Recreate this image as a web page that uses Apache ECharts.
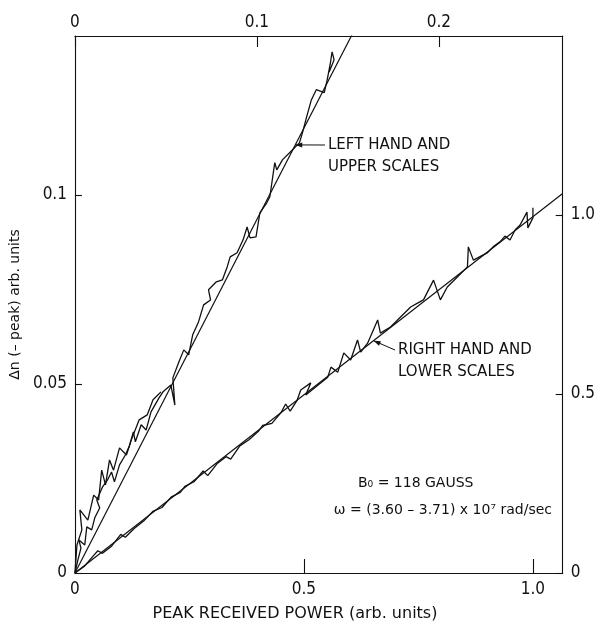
<!DOCTYPE html>
<html><head><meta charset="utf-8">
<script src="https://cdn.jsdelivr.net/npm/echarts@6/dist/echarts.min.js"></script>
<style>html,body{margin:0;padding:0;background:#fff}#c{width:598px;height:630px}</style>
</head><body><div id="c"></div>
<script>
// Tick values on the four scales
const lowerTicks = [0, 0.5, 1.0];
const upperTicks = [0, 0.1, 0.2];
const leftTicks = [0, 0.05, 0.1];
const rightTicks = [0, 0.5, 1.0];

// Recording read on the upper (power) and left-hand (Δn) scales
const upperPower = [0, 0.0016, 0.0033, 0.0022, 0.0054, 0.0065, 0.0092, 0.0109, 0.0136, 0.0120, 0.0152, 0.0179, 0.0201, 0.0217, 0.0245, 0.0277, 0.0299, 0.0321, 0.0332, 0.0364, 0.0391, 0.0418, 0.0462, 0.0484, 0.0527, 0.0549, 0.0538, 0.0571, 0.0598, 0.0625, 0.0647, 0.0679, 0.0707, 0.0745, 0.0734, 0.0777, 0.0810, 0.0837, 0.0853, 0.0891, 0.0924, 0.0946, 0.0962, 0.0995, 0.1016, 0.1054, 0.1071, 0.1098, 0.1109, 0.1141, 0.1196, 0.1234, 0.1250, 0.1272, 0.1299, 0.1326, 0.1370, 0.1386, 0.1402, 0.1413, 0.1424, 0.1397];
const upperDn = [0, 0.0034, 0.0066, 0.0087, 0.0074, 0.0122, 0.0114, 0.0146, 0.0172, 0.0193, 0.0228, 0.0246, 0.0267, 0.0241, 0.0286, 0.0312, 0.0336, 0.0373, 0.0347, 0.0392, 0.0378, 0.0426, 0.0463, 0.0479, 0.0497, 0.0444, 0.0516, 0.0558, 0.0590, 0.0577, 0.0630, 0.0664, 0.0709, 0.0722, 0.0749, 0.0770, 0.0775, 0.0810, 0.0836, 0.0847, 0.0881, 0.0915, 0.0886, 0.0889, 0.0952, 0.0979, 0.0995, 0.1085, 0.1066, 0.1093, 0.1119, 0.1138, 0.1164, 0.1204, 0.1251, 0.1278, 0.1270, 0.1304, 0.1344, 0.1378, 0.1357, 0.1325];
// Second pass of the same recording near the origin
const upperPower2 = [0, 0.0011, 0.0038, 0.0027, 0.0071, 0.0103, 0.0130, 0.0147, 0.0168, 0.0190, 0.0212, 0.0245, 0.0283, 0.0310, 0.0353, 0.0397, 0.0429, 0.0473];
const upperDn2 = [0, 0.0074, 0.0114, 0.0167, 0.0140, 0.0206, 0.0193, 0.0272, 0.0233, 0.0299, 0.0272, 0.0331, 0.0312, 0.0352, 0.0405, 0.0418, 0.0458, 0.0479];
// Straight-line fit, upper/left scales
const upperFitPower = [0, 0.16];
const upperFitDn = [0, 0.1496];

// Recording read on the lower (power) and right-hand (Δn) scales
const lowerPower = [0, 0.02, 0.04, 0.05, 0.06, 0.08, 0.10, 0.11, 0.13, 0.15, 0.17, 0.19, 0.21, 0.23, 0.24, 0.26, 0.28, 0.29, 0.31, 0.33, 0.34, 0.36, 0.38, 0.40, 0.41, 0.43, 0.45, 0.46, 0.47, 0.485, 0.493, 0.515, 0.504, 0.552, 0.559, 0.574, 0.587, 0.602, 0.617, 0.624, 0.639, 0.661, 0.667, 0.689, 0.711, 0.733, 0.748, 0.761, 0.783, 0.798, 0.813, 0.835, 0.857, 0.859, 0.870, 0.900, 0.913, 0.928, 0.939, 0.950, 0.961, 0.972, 0.987, 0.989, 1.0, 1.0];
const lowerDn = [0, 0.018, 0.048, 0.062, 0.055, 0.075, 0.108, 0.100, 0.125, 0.145, 0.172, 0.183, 0.212, 0.225, 0.242, 0.255, 0.285, 0.272, 0.305, 0.325, 0.318, 0.355, 0.372, 0.395, 0.412, 0.418, 0.448, 0.472, 0.452, 0.482, 0.511, 0.531, 0.497, 0.547, 0.575, 0.561, 0.615, 0.595, 0.651, 0.617, 0.642, 0.707, 0.670, 0.687, 0.715, 0.743, 0.754, 0.763, 0.818, 0.763, 0.799, 0.827, 0.855, 0.911, 0.874, 0.894, 0.911, 0.925, 0.941, 0.930, 0.958, 0.972, 1.008, 0.964, 0.992, 1.02];
// Straight-line fit, lower/right scales
const lowerFitPower = [0, 1.065];
const lowerFitDn = [0, 1.06];

const zip = (xs, ys) => xs.map((x, i) => [x, ys[i]]);
const ink = '#111';
const tickFont = "'Liberation Sans Narrow', 'DejaVu Sans Condensed', Roboto, sans-serif";
const textFont = "'DejaVu Sans', sans-serif";

function scaleAxis(pos, min, max, ticks, fmt, tickLen, margin) {
  return {
    type: 'value', position: pos, min: min, max: max,
    splitLine: { show: false },
    axisLine: { show: true, onZero: false, lineStyle: { color: ink, width: 1.1 } },
    axisTick: { show: true, inside: true, length: tickLen, customValues: ticks, lineStyle: { color: ink, width: 1.1 } },
    axisLabel: { show: true, customValues: ticks, formatter: fmt, color: ink, fontFamily: tickFont, fontSize: 17, margin: margin }
  };
}
const f1 = v => v === 0 ? '0' : v.toFixed(1);
const fL = v => v === 0 ? '0' : String(+v.toFixed(2));

const chart = echarts.init(document.getElementById('c'), null, { renderer: 'canvas' });
const lineStyle = { color: ink, width: 1.3 };
chart.setOption({
  animation: false,
  backgroundColor: '#fff',
  grid: { left: 73, right: 35, top: 36, bottom: 57, containLabel: false },
  xAxis: [
    scaleAxis('bottom', 0, 1.065, lowerTicks, f1, 14, 8),
    scaleAxis('top', 0, 0.268, upperTicks, f1, 11, 5)
  ],
  yAxis: [
    Object.assign(scaleAxis('left', 0, 0.142, leftTicks, fL, 7, 8), {
      name: 'Δn (– peak) arb. units', nameLocation: 'middle', nameGap: 39, nameRotate: 90,
      nameTextStyle: { color: ink, fontFamily: textFont, fontSize: 14 }
    }),
    scaleAxis('right', 0, 1.5, rightTicks, f1, 7, 8)
  ],
  series: [
    { type: 'line', xAxisIndex: 1, yAxisIndex: 0, data: zip(upperPower, upperDn), symbol: 'none', lineStyle: lineStyle, silent: true },
    { type: 'line', xAxisIndex: 1, yAxisIndex: 0, data: zip(upperPower2, upperDn2), symbol: 'none', lineStyle: lineStyle, silent: true },
    { type: 'line', xAxisIndex: 1, yAxisIndex: 0, data: zip(upperFitPower, upperFitDn), symbol: 'none', lineStyle: { color: ink, width: 1.2 }, silent: true },
    { type: 'line', xAxisIndex: 0, yAxisIndex: 1, data: zip(lowerPower, lowerDn), symbol: 'none', lineStyle: lineStyle, silent: true },
    { type: 'line', xAxisIndex: 0, yAxisIndex: 1, data: zip(lowerFitPower, lowerFitDn), symbol: 'none', lineStyle: { color: ink, width: 1.2 }, silent: true }
  ]
});

// Arrow tips sit on the fitted lines
const upperSlope = upperFitDn[1] / upperFitPower[1];
const lowerSlope = lowerFitDn[1] / lowerFitPower[1];
const tipUpper = chart.convertToPixel({ xAxisIndex: 1, yAxisIndex: 0 }, [0.1132 / upperSlope, 0.1132]);
const tipLower = chart.convertToPixel({ xAxisIndex: 0, yAxisIndex: 1 }, [0.652, 0.652 * lowerSlope]);

function arrow(tip, from) {
  const dx = from[0] - tip[0], dy = from[1] - tip[1];
  const L = Math.hypot(dx, dy), ux = dx / L, uy = dy / L;
  const h = 7, w = 2.5;
  return [
    { type: 'line', shape: { x1: from[0], y1: from[1], x2: tip[0], y2: tip[1] }, style: { stroke: ink, lineWidth: 1 } },
    { type: 'polygon', shape: { points: [tip, [tip[0] + ux * h - uy * w, tip[1] + uy * h + ux * w], [tip[0] + ux * h + uy * w, tip[1] + uy * h - ux * w]] }, style: { fill: ink } }
  ];
}
// Multi-line text block; y is the centre of the first line
const txt = (x, y, s, size, lh, align) => ({
  type: 'text', x: x, y: y - lh / 2,
  style: { text: s, fill: ink, font: size + 'px ' + textFont, lineHeight: lh, align: align || 'left', verticalAlign: 'top' }
});

chart.setOption({
  graphic: [].concat(
    arrow(tipUpper, [325, 145]),
    [txt(328, 145, 'LEFT HAND AND\nUPPER SCALES', 15, 22)],
    arrow(tipLower, [395, 350]),
    [txt(398, 350, 'RIGHT HAND AND\nLOWER SCALES', 15, 22)],
    [txt(358, 483, 'B₀ = 118 GAUSS', 14, 20), txt(552, 510, 'ω = (3.60 – 3.71) x 10⁷ rad/sec', 14, 20, 'right')],
    [txt(295, 614, 'PEAK RECEIVED POWER (arb. units)', 16, 20, 'center')]
  )
});
</script></body></html>
